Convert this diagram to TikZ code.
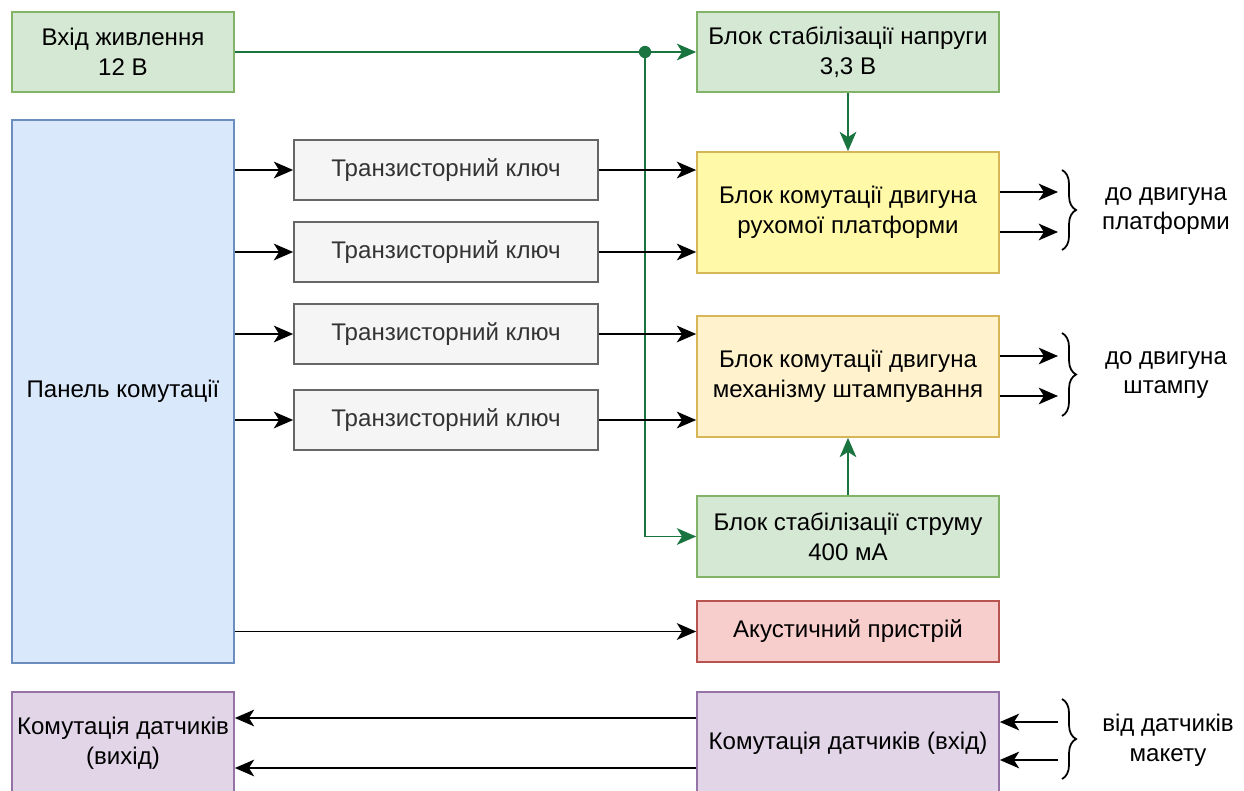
\documentclass[tikz,border=0pt]{standalone}
\usepackage{fontspec}
\setmainfont{Liberation Sans}
\usetikzlibrary{arrows.meta,decorations.pathreplacing}

\definecolor{grfill}{HTML}{D5E8D4}
\definecolor{grdraw}{HTML}{82B366}
\definecolor{blfill}{HTML}{DAE8FC}
\definecolor{bldraw}{HTML}{6C8EBF}
\definecolor{gyfill}{HTML}{F5F5F5}
\definecolor{gydraw}{HTML}{666666}
\definecolor{gytext}{HTML}{333333}
\definecolor{ylfill}{HTML}{FFF9A8}
\definecolor{orfill}{HTML}{FFF2CC}
\definecolor{ordraw}{HTML}{D6B656}
\definecolor{rdfill}{HTML}{F8CECC}
\definecolor{rddraw}{HTML}{B85450}
\definecolor{pufill}{HTML}{E1D5E7}
\definecolor{pudraw}{HTML}{9673A6}
\definecolor{pwline}{HTML}{1A7440}

\tikzset{
  box/.style={draw, line width=1pt, align=center, inner sep=2pt},
  arr/.style={-{Stealth[length=11pt,width=9.5pt,inset=3pt]}, line width=1.1pt},
  pwr/.style={arr, draw=pwline},
  brc/.style={decorate, decoration={brace, amplitude=8pt}, line width=1pt},
}

\begin{document}
\begin{tikzpicture}[x=0.02cm, y=-0.02cm, font=\fontsize{13.7}{17}\selectfont]
  \useasboundingbox (0,0) rectangle (1244,791);

  \node[box, fill=grfill, draw=grdraw, minimum width=4.44cm, minimum height=1.6cm] (pw) at (123,52) {Вхід живлення\\12 В};
  \node[box, fill=grfill, draw=grdraw, minimum width=6.04cm, minimum height=1.6cm] (st33) at (848,52) {Блок стабілізації напруги\\3,3 В};
  \node[box, fill=blfill, draw=bldraw, minimum width=4.44cm, minimum height=10.86cm] (panel) at (123,391.5) {Панель комутації};

  \node[box, fill=gyfill, draw=gydraw, text=gytext, minimum width=6.08cm, minimum height=1.2cm] (k1) at (446,170) {Транзисторний ключ};
  \node[box, fill=gyfill, draw=gydraw, text=gytext, minimum width=6.08cm, minimum height=1.2cm] (k2) at (446,252) {Транзисторний ключ};
  \node[box, fill=gyfill, draw=gydraw, text=gytext, minimum width=6.08cm, minimum height=1.2cm] (k3) at (446,334) {Транзисторний ключ};
  \node[box, fill=gyfill, draw=gydraw, text=gytext, minimum width=6.08cm, minimum height=1.2cm] (k4) at (446,420) {Транзисторний ключ};

  \node[box, fill=ylfill, draw=ordraw, minimum width=6.04cm, minimum height=2.42cm] (blk1) at (848,212.5) {Блок комутації двигуна\\рухомої платформи};
  \node[box, fill=orfill, draw=ordraw, minimum width=6.04cm, minimum height=2.42cm] (blk2) at (848,376.5) {Блок комутації двигуна\\механізму штампування};
  \node[box, fill=grfill, draw=grdraw, minimum width=6.04cm, minimum height=1.62cm] (st400) at (848,536.5) {Блок стабілізації струму\\400 мА};
  \node[box, fill=rdfill, draw=rddraw, minimum width=6.04cm, minimum height=1.22cm] (ak) at (848,631.5) {Акустичний пристрій};

  \node[box, fill=pufill, draw=pudraw, minimum width=4.44cm, minimum height=2.04cm] (sout) at (123,743) {Комутація датчиків\\(вихід)};
  \node[box, fill=pufill, draw=pudraw, minimum width=6.04cm, minimum height=2.04cm] (sin) at (848,743) {Комутація датчиків (вхід)};

  \node[align=center] (lbl1) at (1166,211) {до двигуна\\платформи};
  \node[align=center] (lbl2) at (1166,375) {до двигуна\\штампу};
  \node[align=center] (lbl3) at (1168,740) {від датчиків\\макету};

  \coordinate (junc) at (645,52);
  \coordinate (o1) at (1058,192);
  \coordinate (o2) at (1058,232);
  \coordinate (o3) at (1058,356);
  \coordinate (o4) at (1058,396);
  \coordinate (i1) at (1058,722);
  \coordinate (i2) at (1058,760);

  \draw[pwr] (pw.east) -- (st33.west);
  \draw[pwr] (junc) |- (st400.west);
  \fill[pwline] (junc) circle (3.5pt);
  \draw[pwr] (st33.south) -- (blk1.north);
  \draw[pwr] (st400.north) -- (blk2.south);

  \foreach \k in {k1,k2,k3,k4}
    \draw[arr] (panel.east |- \k.west) -- (\k.west);
  \draw[arr] (k1.east) -- (k1.east -| blk1.west);
  \draw[arr] (k2.east) -- (k2.east -| blk1.west);
  \draw[arr] (k3.east) -- (k3.east -| blk2.west);
  \draw[arr] (k4.east) -- (k4.east -| blk2.west);
  \draw[arr] (panel.east |- ak.west) -- (ak.west);

  \draw[arr] (o1 -| blk1.east) -- (o1);
  \draw[arr] (o2 -| blk1.east) -- (o2);
  \draw[arr] (o3 -| blk2.east) -- (o3);
  \draw[arr] (o4 -| blk2.east) -- (o4);
  \draw[arr] (i1) -- (i1 -| sin.east);
  \draw[arr] (i2) -- (i2 -| sin.east);
  \draw[arr] (sin.west |- 0,718) -- (sout.east |- 0,718);
  \draw[arr] (sin.west |- 0,768) -- (sout.east |- 0,768);

  \draw[brc] (1062,170) -- (1062,250);
  \draw[brc] (1062,333) -- (1062,416);
  \draw[brc] (1062,699) -- (1062,779);
\end{tikzpicture}
\end{document}
